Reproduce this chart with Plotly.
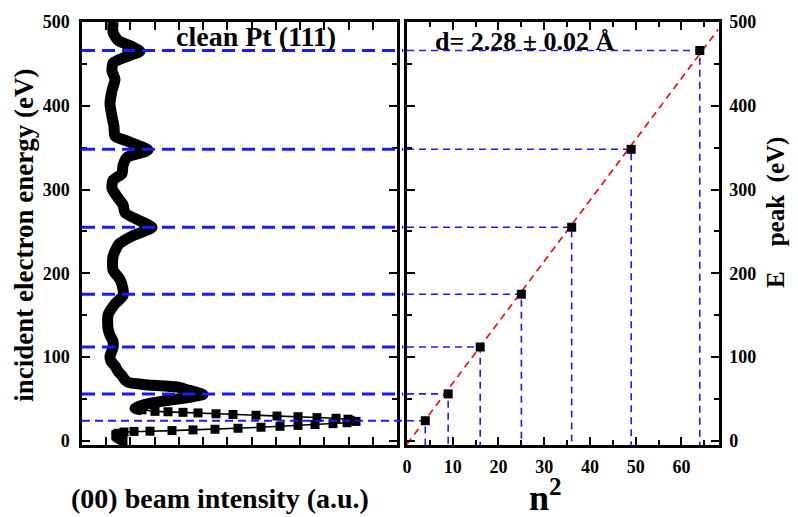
import plotly.graph_objects as go

# ---- data ----
# LEED I(V) curve of (00) beam: low-energy part (sampled points)
low_E = [0, 1.5, 3, 4.5, 6, 7.5, 9, 10.5, 11.2, 11.5, 12.2, 13.0, 13.8, 15.0, 16.2, 17.3, 18.4, 19.5, 20.5, 21.6, 23.2,
         24.5, 25.8, 26.9, 27.7, 28.8, 29.6, 30.5, 31.5, 32.3, 33.3, 34.0, 34.7, 35.2, 37.0]
low_I = [41, 39, 37, 35, 34, 34, 36, 42, 52, 68, 90, 111, 133, 156, 179, 198, 216, 233, 251, 265, 274,
         268, 266, 254, 235, 216, 195, 174, 151, 134, 116, 101, 86, 73, 60]
# higher-energy part (dense curve)
hi_E = [37, 39, 42.8, 48.7, 52, 55.3, 58.5, 61, 64.2, 67.3, 70, 74, 77.8, 83, 89.5, 95, 101, 111, 118.7,
        126, 134, 150, 163.4, 173.2, 181, 192.5, 204, 220, 235, 245, 254.8, 262.5, 272.3, 282, 291.7,
        301.5, 311.2, 319, 328.7, 338.4, 347, 357.9, 363.7, 375, 387, 402.6, 418, 431.7, 441.5, 451,
        459, 465, 470.7, 478, 488, 500]
hi_I = [60, 53, 61, 88, 108, 121, 113, 105, 95, 61, 46, 42, 40, 36, 33, 29, 28, 31, 31,
        28, 26, 26, 33, 41, 41, 38, 31, 31, 37, 51, 70, 58, 43, 41, 35,
        30, 31, 40, 41, 45, 66, 45, 33, 32, 30, 28, 30, 33, 30, 31,
        45, 58, 50, 36, 31, 31]

# Bragg peak positions
n2 = [4, 9, 16, 25, 36, 49, 64]
E_peak = [24, 56, 112, 175, 255, 348, 466]

# linear fit
fit_n2 = [0, 68]
fit_E = [-4, 491]

left_ticks = [i * 315 / 13 for i in range(14)]

FONT = "Liberation Serif, Times New Roman, serif"
BLUE = "#1a1aff"

fig = go.Figure()

# left panel
fig.add_trace(go.Scatter(x=hi_I, y=hi_E, mode="lines", line=dict(color="black", width=11, shape="spline", smoothing=0.6),
                         xaxis="x", yaxis="y", showlegend=False, hoverinfo="skip"))
fig.add_trace(go.Scatter(x=low_I, y=low_E, mode="lines+markers", line=dict(color="black", width=1.6),
                         marker=dict(symbol="square", size=9, color="black"),
                         xaxis="x", yaxis="y", showlegend=False, hoverinfo="skip"))

# right panel guide lines
gx, gy = [], []
for a, e in zip(n2, E_peak):
    gx += [0, a, a, None]
    gy += [e, e, -5, None]
fig.add_trace(go.Scatter(x=gx, y=gy, mode="lines", line=dict(color=BLUE, width=1.6, dash="7px,5px"),
                         xaxis="x2", yaxis="y2", showlegend=False, hoverinfo="skip"))
fig.add_trace(go.Scatter(x=fit_n2, y=fit_E, mode="lines", line=dict(color="red", width=1.6, dash="7px,5px"),
                         xaxis="x2", yaxis="y2", showlegend=False, hoverinfo="skip"))
fig.add_trace(go.Scatter(x=n2, y=E_peak, mode="markers", marker=dict(symbol="square", size=9, color="black"),
                         xaxis="x2", yaxis="y2", showlegend=False, hoverinfo="skip"))

# left panel horizontal lines
shapes = []
for i, e in enumerate(E_peak):
    thin = (i == 0)
    shapes.append(dict(type="line", xref="x domain", yref="y", x0=0, x1=1.02, y0=e, y1=e,
                       line=dict(color=BLUE, width=2 if thin else 3, dash="8px,5px" if thin else "13px,7px"),
                       layer="above"))

tickfont = dict(family=FONT, size=18, color="black", weight="bold")
common = dict(showline=True, linewidth=2.5, linecolor="black", mirror="allticks", ticks="inside",
              ticklen=8, tickwidth=2, tickcolor="black", showgrid=False, zeroline=False)

fig.update_layout(
    width=798, height=517,
    margin=dict(l=82, r=79, t=13, b=72),
    paper_bgcolor="white", plot_bgcolor="white",
    font=dict(family=FONT, color="black"),
    shapes=shapes,
    xaxis=dict(domain=[0, 0.4945], range=[0, 315], tickmode="array", tickvals=left_ticks,
               showticklabels=False, anchor="y", **common),
    yaxis=dict(domain=[0, 1], range=[-5, 500], dtick=100, tick0=0, tickfont=tickfont, anchor="x",
               ticklabelstandoff=6,
               minor=dict(ticks="inside", ticklen=5, tickwidth=2, dtick=50, tick0=0, tickcolor="black"),
               **common),
    xaxis2=dict(domain=[0.5102, 1], range=[0, 68.2], dtick=10, tick0=0, tickfont=tickfont, anchor="y2",
                ticklabelstandoff=4,
                minor=dict(ticks="inside", ticklen=5, tickwidth=2, dtick=5, tick0=0, tickcolor="black"),
                **common),
    yaxis2=dict(domain=[0, 1], range=[-5, 500], dtick=100, tick0=0, tickfont=tickfont, anchor="x2", side="right",
                ticklabelstandoff=4,
                minor=dict(ticks="inside", ticklen=5, tickwidth=2, dtick=50, tick0=0, tickcolor="black"),
                **common),
)

def ann(text, x, y, size, angle=0):
    fig.add_annotation(text=text, x=x, y=y, xref="paper", yref="paper", showarrow=False,
                       xanchor="center", yanchor="middle", textangle=angle,
                       font=dict(family=FONT, size=size, color="black", weight="bold"))

ann("clean Pt (111)", 0.273, 0.965, 28)
ann("d= 2.28 \u00b1 0.02 \u00c5", 0.6954, 0.954, 26)
ann("incident electron energy (eV)", -0.091, 0.495, 27, -90)
ann("E\u00a0\u00a0\u00a0\u00a0peak\u00a0\u00a0(eV)", 1.0895, 0.5486, 25, -90)
ann("(00) beam intensity (a.u.)", 0.2166, -0.127, 28)
ann("n<sup>2</sup>", 0.727, -0.12, 36)

fig.write_html("out.html")
